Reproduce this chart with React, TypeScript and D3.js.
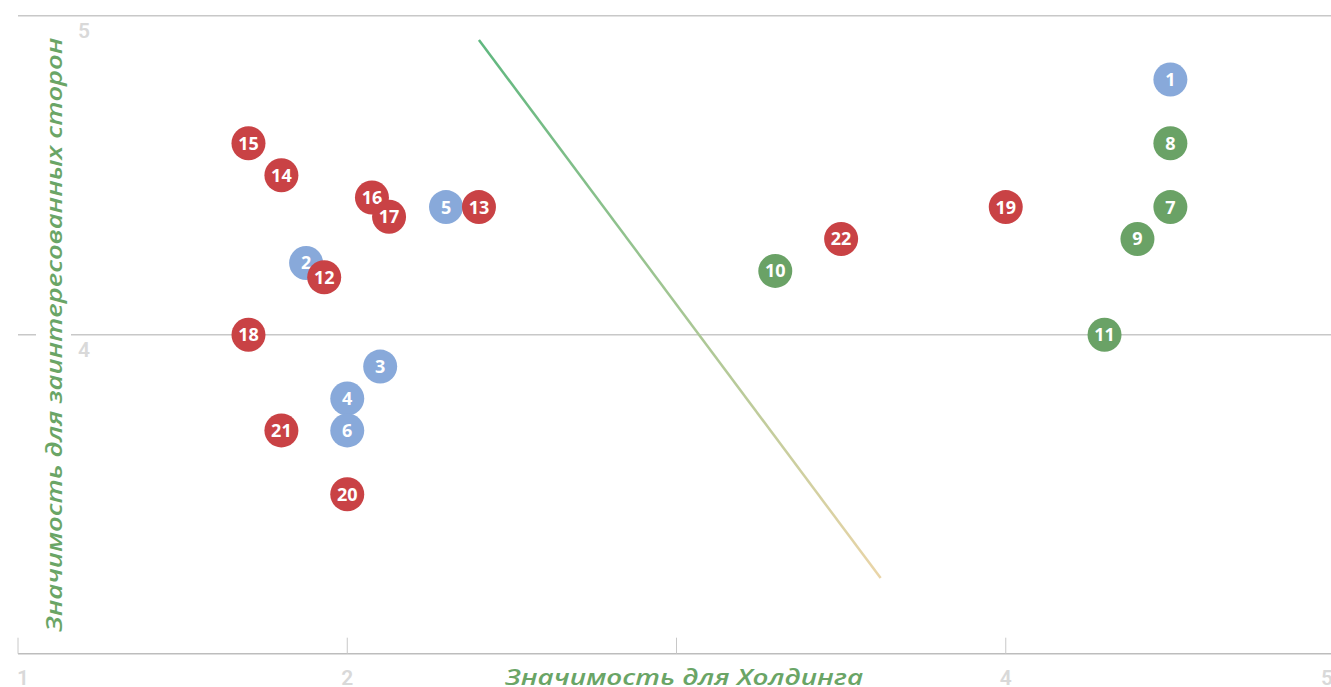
import React from 'react';
import * as d3 from 'd3';

// point ids, coordinates and group
const ids = [1, 2, 3, 4, 5, 6, 7, 8, 9, 10, 11, 12, 13, 14, 15, 16, 17, 18, 19, 20, 21, 22];
const holdingValues = [4.5, 1.875, 2.1, 2.0, 2.3, 2.0, 4.5, 4.5, 4.4, 3.3, 4.3, 1.93, 2.4, 1.8, 1.7, 2.075, 2.127, 1.7, 4.0, 2.0, 1.8, 3.5];
const stakeholderValues = [4.8, 4.225, 3.9, 3.8, 4.4, 3.7, 4.4, 4.6, 4.3, 4.2, 4.0, 4.18, 4.4, 4.5, 4.6, 4.43, 4.37, 4.0, 4.4, 3.5, 3.7, 4.3];
const groups = ['b', 'b', 'b', 'b', 'b', 'b', 'g', 'g', 'g', 'g', 'g', 'r', 'r', 'r', 'r', 'r', 'r', 'r', 'r', 'r', 'r', 'r'];

const xTicks = [1, 2, 3, 4, 5];
// "3" sits under the axis title in the original, so no label for it
const xTickLabels = [1, 2, 4, 5];
const yTicks = [5, 4];
const trendX = [2.4, 3.62];
const trendY = [4.924, 3.237];

const xTitle = 'Значимость для Холдинга';
const yTitle = 'Значимость для заинтересованных сторон';

const W = 1331;
const H = 687;

const colors: Record<string, string> = { b: '#88a9da', g: '#6aa266', r: '#c94245' };

export default function App() {
  const x = d3.scaleLinear().domain([1, 5]).range([18, 1335]);
  const y = d3.scaleLinear().domain([3, 5]).range([653.7, 15.7]);

  const points = ids.map((id, i) => ({ id, x: holdingValues[i], y: stakeholderValues[i], g: groups[i] }));

  return (
    <svg width={W} height={H} style={{ position: 'absolute', left: 0, top: 0 }}
      fontFamily="'Open Sans', sans-serif">
      <defs>
        <linearGradient id="trend" gradientUnits="userSpaceOnUse"
          x1={x(trendX[0])} y1={y(trendY[0])} x2={x(trendX[1])} y2={y(trendY[1])}>
          <stop offset="0%" stopColor="#5fb77f" />
          <stop offset="100%" stopColor="#ead5a8" />
        </linearGradient>
      </defs>

      {/* gridlines */}
      {yTicks.map((t) => (
        <line key={'g' + t} x1={18} x2={W} y1={y(t)} y2={y(t)} stroke="#c8c8c8" strokeWidth={1.5} />
      ))}
      {/* bottom axis */}
      <line x1={18} x2={W} y1={y(3)} y2={y(3)} stroke="#bdbdbd" strokeWidth={1.5} />
      {xTicks.map((t) => (
        <line key={'t' + t} x1={x(t)} x2={x(t)} y1={y(3) - 16} y2={y(3)} stroke="#c8c8c8" strokeWidth={1} />
      ))}
      {xTickLabels.map((t) => (
        <text key={'xl' + t} x={x(t) + (t === 1 ? 5 : t === 5 ? -8 : 0)} y={685} textAnchor="middle" fontSize={21}
          fontWeight={600} fill="#d9d9d9" fontFamily="'Roboto', sans-serif">{t}</text>
      ))}
      {yTicks.map((t) => (
        <text key={'yl' + t} x={84} y={y(t) + 22} textAnchor="middle" fontSize={21}
          fontWeight={600} fill="#d9d9d9" fontFamily="'Roboto', sans-serif">{t}</text>
      ))}

      {/* axis titles with white backing */}
      <rect x={36} y={30} width={35} height={610} fill="#fff" />
      <text transform={`translate(62, ${y(4)}) rotate(-90)`} textAnchor="middle" fontSize={22}
        fontStyle="italic" fontWeight={600} fill="#6aa566" textLength={594} lengthAdjust="spacingAndGlyphs">
        {yTitle}
      </text>
      <text x={684} y={685} textAnchor="middle" fontSize={22} fontStyle="italic" fontWeight={600}
        fill="#6aa566" textLength={358} lengthAdjust="spacingAndGlyphs">
        {xTitle}
      </text>

      {/* trend line */}
      <line x1={x(trendX[0])} y1={y(trendY[0])} x2={x(trendX[1])} y2={y(trendY[1])}
        stroke="url(#trend)" strokeWidth={2.5} />

      {/* points */}
      {points.map((p) => (
        <g key={p.id} transform={`translate(${x(p.x)}, ${y(p.y)})`}>
          <circle r={17} fill={colors[p.g]} />
          <text textAnchor="middle" dy="0.36em" fontSize={18} fontWeight={700} fill="#fff">{p.id}</text>
        </g>
      ))}
    </svg>
  );
}
